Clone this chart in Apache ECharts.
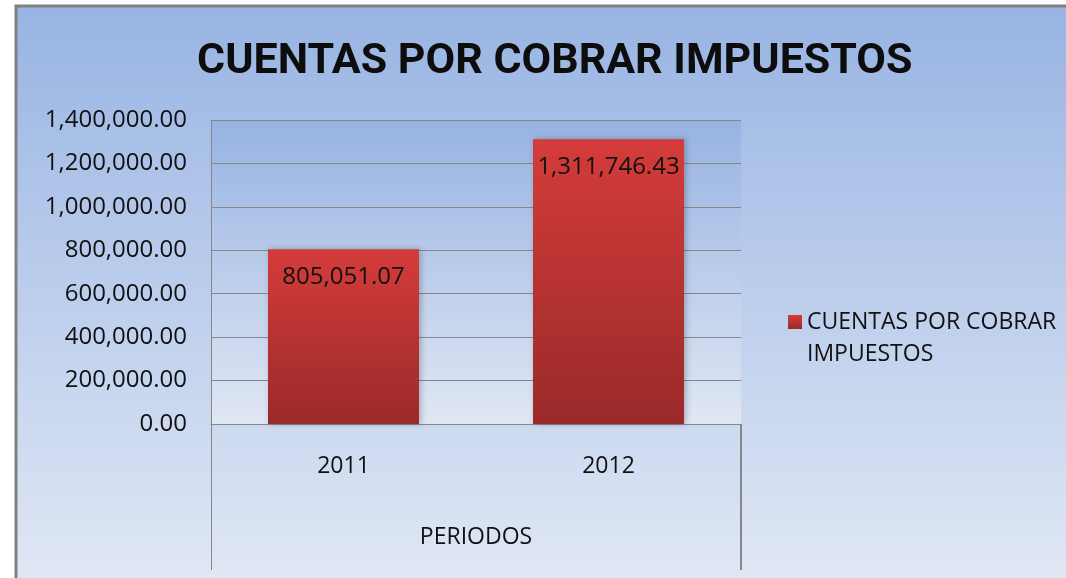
<!DOCTYPE html>
<html>
<head>
<meta charset="utf-8">
<script src="https://cdn.jsdelivr.net/npm/echarts@6/dist/echarts.min.js"></script>
<style>
  html, body { margin: 0; padding: 0; background: #fff; }
  #chart { width: 1066px; height: 578px; }
</style>
</head>
<body>
<div id="chart"></div>
<script>
const periods = ['2011', '2012']
const cuentas = [805051.07, 1311746.43]
const seriesName = 'CUENTAS POR COBRAR IMPUESTOS'
const yTicks = { min: 0, max: 1400000, interval: 200000 }

const fmt = v => Number(v).toLocaleString('en-US', { minimumFractionDigits: 2, maximumFractionDigits: 2 })
const font = '"Open Sans", "Noto Sans", sans-serif'

const chart = echarts.init(document.getElementById('chart'))
chart.setOption({
  backgroundColor: '#ffffff',
  animation: false,
  title: {
    text: 'CUENTAS POR COBRAR IMPUESTOS',
    left: 192,
    top: 36,
    textStyle: {
      fontFamily: 'Roboto, "Open Sans", sans-serif',
      fontWeight: 'bold',
      fontSize: 43,
      color: '#0d0d0d'
    }
  },
  graphic: [
    {
      type: 'rect',
      z: -100,
      shape: { x: 16, y: 6, width: 1060, height: 580 },
      style: {
        fill: new echarts.graphic.LinearGradient(0, 0, 0, 1, [
          { offset: 0, color: '#98b4e3' },
          { offset: 1, color: '#e1e8f5' }
        ]),
        stroke: '#808080',
        lineWidth: 3
      }
    },
    { type: 'line', z: 50, shape: { x1: 211.5, y1: 120, x2: 211.5, y2: 570 }, style: { stroke: '#878787', lineWidth: 1 } },
    { type: 'line', z: 50, shape: { x1: 741, y1: 424, x2: 741, y2: 570 }, style: { stroke: '#878787', lineWidth: 2 } }
  ],
  grid: {
    left: 211,
    right: 325,
    top: 120,
    bottom: 154,
    show: true,
    borderWidth: 0,
    backgroundColor: new echarts.graphic.LinearGradient(0, 0, 0, 1, [
      { offset: 0, color: '#97b3e2' },
      { offset: 1, color: '#e0e7f4' }
    ])
  },
  legend: {
    left: 783,
    top: 269,
    orient: 'vertical',
    icon: 'rect',
    itemWidth: 14,
    itemHeight: 14,
    formatter: () => '\nCUENTAS POR COBRAR\nIMPUESTOS',
    textStyle: {
      fontFamily: font,
      fontSize: 23,
      color: '#111',
      lineHeight: 32
    }
  },
  xAxis: {
    type: 'category',
    data: periods,
    name: 'PERIODOS',
    nameLocation: 'middle',
    nameGap: 102,
    nameTextStyle: { fontFamily: font, fontSize: 23, color: '#111' },
    axisLine: { lineStyle: { color: '#878787', width: 1 } },
    axisTick: { show: false },
    axisLabel: { fontFamily: font, fontSize: 23, color: '#111', margin: 31 }
  },
  yAxis: {
    type: 'value',
    min: yTicks.min,
    max: yTicks.max,
    interval: yTicks.interval,
    axisLine: { show: false },
    axisTick: { show: false },
    splitLine: { lineStyle: { color: '#878787', width: 1 } },
    axisLabel: {
      fontFamily: font,
      fontSize: 24,
      color: '#111',
      margin: 24,
      formatter: v => fmt(v)
    }
  },
  series: [
    {
      name: seriesName,
      type: 'bar',
      data: cuentas,
      barWidth: 151,
      itemStyle: {
        color: new echarts.graphic.LinearGradient(0, 0, 0, 1, [
          { offset: 0, color: '#d43c3a' },
          { offset: 1, color: '#9a2a2a' }
        ]),
        shadowBlur: 6,
        shadowOffsetX: 2,
        shadowColor: 'rgba(0, 0, 0, 0.25)'
      },
      label: {
        show: true,
        position: 'insideTop',
        distance: 16,
        fontFamily: font,
        fontSize: 24,
        color: '#111',
        formatter: p => fmt(p.value)
      }
    }
  ]
})
</script>
</body>
</html>
